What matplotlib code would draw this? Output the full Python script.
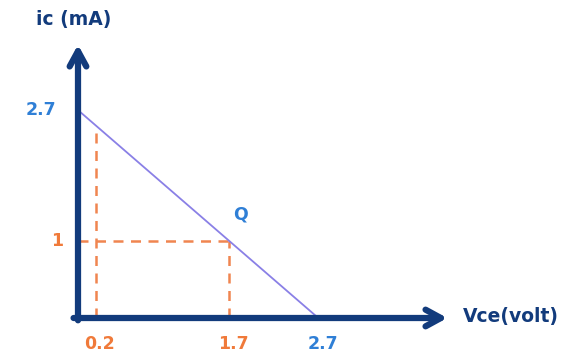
import matplotlib

matplotlib.use("Agg")

import matplotlib.pyplot as plt

# load line end points and Q point (Vce in volt, ic in mA)
vce_cut = 2.7
ic_sat = 2.7
q_vce = 1.7
q_ic = 1.0
vce_min = 0.2
ic_at_min = ic_sat * (1 - vce_min / vce_cut)

x_ticks = [0.2, 1.7, 2.7]
x_tick_labels = ["0.2", "1.7", "2.7"]
x_tick_colors = ["#f07a3a", "#f07a3a", "#2f7fd6"]
y_ticks = [1.0, 2.7]
y_tick_labels = ["1", "2.7"]
y_tick_colors = ["#f07a3a", "#2f7fd6"]

NAVY = "#123b7c"
ORANGE = "#f08550"
VIOLET = "#8a80e6"

plt.rcParams["font.family"] = ["DejaVu Sans"]

fig = plt.figure(figsize=(5.68, 3.63), dpi=100)
ax = fig.add_axes([0, 0, 1, 1])
ax.set_xlim(-78 / 89, 490 / 89)
ax.set_ylim(-45 / 77, 318 / 77)
ax.axis("off")

# load line
ax.plot([0, vce_cut], [ic_sat, 0], color=VIOLET, lw=1.3, zorder=2)

# dashed guides
dash = dict(color=ORANGE, lw=1.8, ls=(0, (4, 3)), zorder=1)
ax.plot([vce_min, vce_min], [0, ic_at_min], **dash)
ax.plot([0, q_vce], [q_ic, q_ic], **dash)
ax.plot([q_vce, q_vce], [0, q_ic], **dash)

# axes arrows
arrow = dict(arrowstyle="->,head_length=1.1,head_width=0.6", color=NAVY, lw=4.5,
             shrinkA=0, shrinkB=0)
ax.annotate("", xy=(0, 3.55), xytext=(0, -0.03), arrowprops=arrow, zorder=3)
ax.annotate("", xy=(4.15, 0), xytext=(-0.05, 0), arrowprops=arrow, zorder=3)

# tick labels
for x, lab, col in zip(x_ticks, x_tick_labels, x_tick_colors):
    ax.annotate(lab, (x, 0), xytext=(3, -19), textcoords="offset points",
                ha="center", va="center", color=col, fontsize=12.5,
                fontweight="bold")
for y, lab, col in zip(y_ticks, y_tick_labels, y_tick_colors):
    ax.annotate(lab, (0, y), xytext=(-27 if len(lab) > 1 else -15, 0),
                textcoords="offset points", ha="center", va="center",
                color=col, fontsize=12.5, fontweight="bold")

ax.annotate("Q", (q_vce, q_ic), xytext=(8, 19), textcoords="offset points",
            ha="center", va="center", color="#2f7fd6", fontsize=12.5,
            fontweight="bold")

# axis titles
ax.annotate("ic (mA)", (0, 3.55), xytext=(-3, 18), textcoords="offset points",
            ha="center", va="center", color=NAVY, fontsize=13.5, fontweight="bold")
ax.annotate("Vce(volt)", (4.15, 0), xytext=(11, 1), textcoords="offset points",
            ha="left", va="center", color=NAVY, fontsize=13.5, fontweight="bold")

fig.savefig("out.png", dpi=100)
